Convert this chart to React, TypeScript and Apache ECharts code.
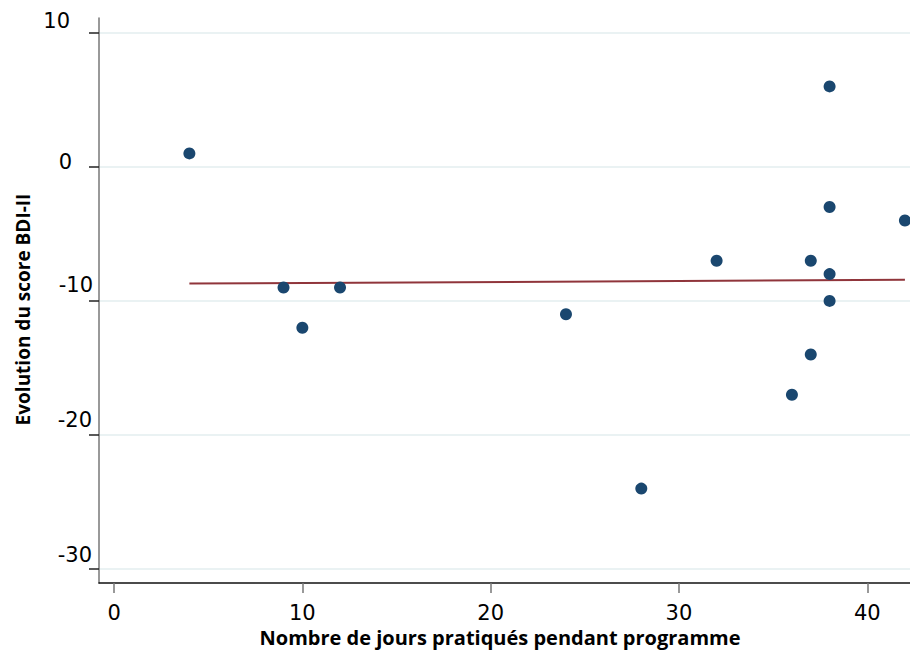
import React, { useEffect, useRef } from "react";
import * as echarts from "echarts";

const daysPracticed = [4, 9, 10, 12, 24, 28, 32, 36, 37, 37, 38, 38, 38, 38, 42];
const bdiChange = [1, -9, -12, -9, -11, -24, -7, -17, -7, -14, 6, -3, -8, -10, -4];
const fitLine: [number, number][] = [
  [4, -8.71],
  [42, -8.43],
];
const xTicks = [0, 10, 20, 30, 40];
const yTicks = [-30, -20, -10, 0, 10];

export default function App() {
  const ref = useRef<HTMLDivElement>(null);
  useEffect(() => {
    if (!ref.current) return;
    const chart = echarts.init(ref.current, undefined, { renderer: "svg" });
    const points = daysPracticed.map((d, i) => [d, bdiChange[i]]);
    const labelStyle = (padRight: number, padBottom: number) => ({
      fontFamily: "DejaVu Sans",
      fontSize: 21,
      lineHeight: 21,
      color: "#000",
      padding: [0, padRight, padBottom, 0],
    });
    chart.setOption({
      animation: false,
      backgroundColor: "#ffffff",
      grid: { left: 99, right: 0, top: 18, bottom: 67, containLabel: false, outerBoundsMode: "none" },
      xAxis: {
        type: "value",
        min: -0.8,
        max: 42.27,
        name: "Nombre de jours pratiqués pendant programme",
        nameLocation: "middle",
        nameGap: 42,
        nameTextStyle: {
          fontFamily: "Open Sans",
          fontWeight: "bold",
          fontSize: 20,
          color: "#000",
          padding: [0, 9, 0, 0],
        },
        axisLine: { show: true, onZero: false, lineStyle: { color: "#111", width: 1.5 } },
        axisTick: { show: true, length: 10, customValues: xTicks, lineStyle: { color: "#777", width: 1.5 } },
        axisLabel: {
          customValues: xTicks,
          margin: 19,
          fontFamily: "DejaVu Sans",
          fontSize: 21,
          color: "#000",
        },
        splitLine: { show: false },
      },
      yAxis: {
        type: "value",
        min: -31.04,
        max: 11.1,
        name: "Evolution du score BDI-II",
        nameLocation: "middle",
        nameGap: 63,
        nameRotate: 90,
        nameTextStyle: {
          fontFamily: "Open Sans",
          fontWeight: "bold",
          fontSize: 19,
          color: "#000",
          padding: [0, 18, 0, 0],
        },
        axisLine: { show: true, onZero: false, lineStyle: { color: "#777", width: 1.5 } },
        axisTick: { show: true, length: 10, customValues: yTicks, lineStyle: { color: "#222", width: 1.5 } },
        axisLabel: {
          customValues: yTicks,
          margin: 6,
          verticalAlign: "middle",
          formatter: (v: number) => {
            if (v === 10) return `{p10|${v}}`;
            if (v === 0) return `{p0|${v}}`;
            if (v === -10) return `{m10|${v}}`;
            return `{m20|${v}}`;
          },
          rich: {
            p10: labelStyle(23, 23),
            p0: labelStyle(21, 9),
            m10: labelStyle(0, 31),
            m20: labelStyle(1, 29),
          },
        },
        splitLine: { show: true, lineStyle: { color: "#eaf2f3", width: 2 } },
      },
      series: [
        {
          type: "scatter",
          data: points,
          symbolSize: 12,
          itemStyle: { color: "#1a476f", opacity: 1 },
          z: 3,
          clip: false,
        },
        {
          type: "line",
          data: fitLine,
          symbol: "none",
          lineStyle: { color: "#90353b", width: 2 },
          z: 2,
        },
      ],
    });
    return () => chart.dispose();
  }, []);
  return (
    <div
      ref={ref}
      style={{ position: "fixed", left: 0, top: 0, width: 910, height: 650 }}
    />
  );
}
